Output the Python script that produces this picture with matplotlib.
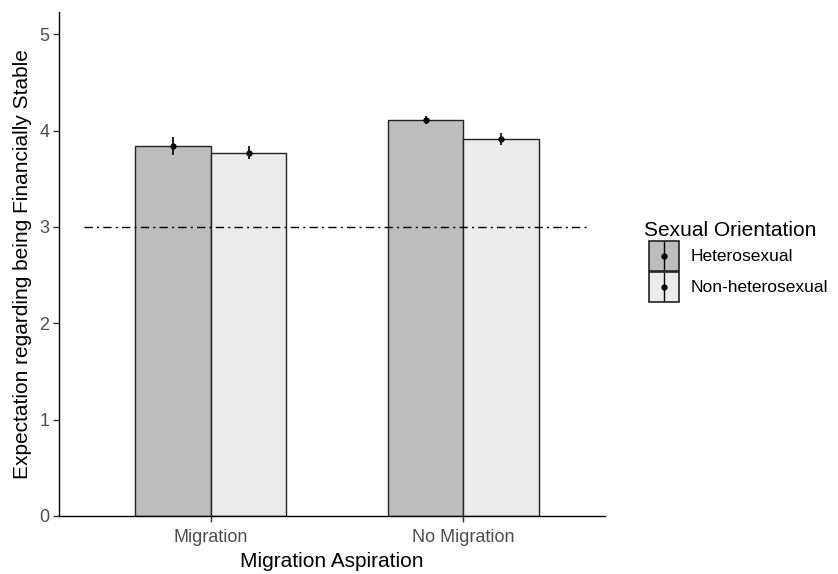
import matplotlib
matplotlib.use("Agg")
import matplotlib.pyplot as plt
import numpy as np
from matplotlib.patches import Rectangle
from matplotlib.lines import Line2D
from matplotlib.legend_handler import HandlerBase

plt.rcParams['font.family'] = ['Liberation Sans', 'DejaVu Sans']

# Data
aspiration = ["Migration", "No Migration"]
orientation = ["Heterosexual", "Non-heterosexual"]
means = {
    "Heterosexual": [3.84, 4.11],
    "Non-heterosexual": [3.77, 3.91],
}
errors = {
    "Heterosexual": [0.09, 0.04],
    "Non-heterosexual": [0.07, 0.06],
}
fills = {"Heterosexual": "#bdbdbd", "Non-heterosexual": "#ebebeb"}
reference_level = 3
y_ticks = [0, 1, 2, 3, 4, 5]

fig = plt.figure(figsize=(8.38, 5.74), dpi=100)
W, H = 838, 574
ax = fig.add_axes([59 / W, (574 - 516) / H, (605 - 59) / W, (516 - 12) / H])

x = np.arange(1, len(aspiration) + 1)
bar_w = 0.3
offsets = {"Heterosexual": -bar_w / 2, "Non-heterosexual": bar_w / 2}

for grp in orientation:
    xs = x + offsets[grp]
    ax.bar(xs, means[grp], width=bar_w, color=fills[grp], edgecolor="#222222",
           linewidth=1.0, zorder=2)
    ax.errorbar(xs, means[grp], yerr=errors[grp], fmt="o", color="black",
                markersize=3.5, elinewidth=1.2, capsize=0, zorder=4)

ax.hlines(reference_level, 0.5, 2.5, colors="black", linestyles=(0, (6, 3, 1.5, 3)),
          linewidth=1.0, zorder=3)

ax.set_xlim(0.4, 2.56)
ax.set_ylim(0, 5.23)
ax.set_xticks(x)
ax.set_xticklabels(aspiration)
ax.set_yticks(y_ticks)

for s in ["top", "right"]:
    ax.spines[s].set_visible(False)
for s in ["left", "bottom"]:
    ax.spines[s].set_color("black")
    ax.spines[s].set_linewidth(1.0)

ax.tick_params(axis="both", colors="#333333", labelcolor="#4d4d4d",
               labelsize=13, length=4, width=1.0)
ax.tick_params(axis="x", pad=5)
ax.tick_params(axis="y", pad=3)
ax.set_xlabel("Migration Aspiration", fontsize=15, color="black", labelpad=5)
ax.set_ylabel("Expectation regarding being Financially Stable", fontsize=15,
              color="black", labelpad=5)


class PointRangeKey(HandlerBase):
    def create_artists(self, legend, orig_handle, xdescent, ydescent,
                       width, height, fontsize, trans):
        fc = orig_handle.get_facecolor()
        side = min(width, height)
        x0 = xdescent * -1 + (width - side) / 2
        y0 = -ydescent + (height - side) / 2
        rect = Rectangle((x0, y0), side, side, facecolor=fc,
                         edgecolor="#222222", linewidth=1.2, transform=trans)
        cx = x0 + side / 2
        line = Line2D([cx, cx], [y0 + 1, y0 + side - 1], color="black",
                      linewidth=1.0, transform=trans)
        pt = Line2D([cx], [y0 + side / 2], marker="o", markersize=3.5,
                    color="black", transform=trans)
        return [rect, line, pt]


handles = [Rectangle((0, 0), 1, 1, facecolor=fills[g]) for g in orientation]
leg = fig.legend(handles, orientation, title="Sexual Orientation",
                 loc="upper left", bbox_to_anchor=(635 / W, 1 - 212 / H),
                 frameon=False, fontsize=12.5, title_fontsize=15,
                 handler_map={Rectangle: PointRangeKey()},
                 handlelength=2.3, handleheight=2.3, handletextpad=0.4,
                 labelspacing=0.05, borderpad=0.0, alignment="left")

fig.savefig("out.png", dpi=100, facecolor="white")
